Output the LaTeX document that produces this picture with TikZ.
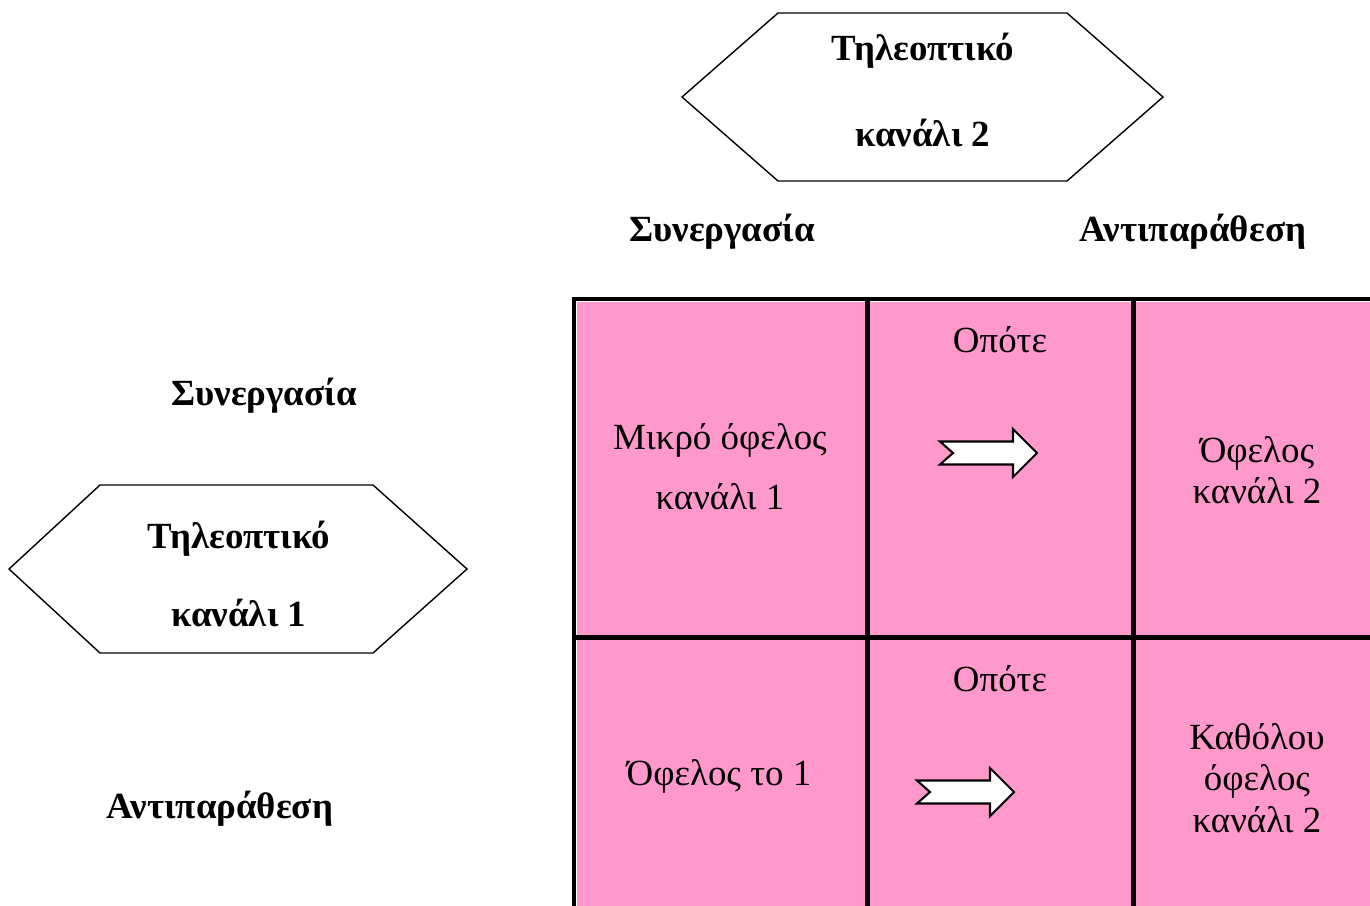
\documentclass[tikz,border=0pt]{standalone}
\usepackage{fontspec}
\setmainfont{Liberation Serif}
\usetikzlibrary{positioning}
\definecolor{cellpink}{RGB}{255,153,204}
\tikzset{
	every node/.style={
		font=\fontsize{10.5}{11.8}\selectfont
	},
	heading/.style={
		font=\fontsize{10.5}{11.8}\selectfont\bfseries,
		inner sep=0pt
	},
	tvbox/.style={
		align=center,
		font=\fontsize{10.5}{11.8}\selectfont\bfseries,
		inner sep=0pt
	},
	celltext/.style={
		align=center,
		inner sep=0pt
	},
	hexline/.style={
		draw=black,
		line width=0.4pt
	},
	gridline/.style={
		draw=black,
		line width=1.15pt
	},
	pics/fatarrow/.style={
		code={
			\draw[fill=white, line width=0.6pt, line join=miter]
				(0,0.115) -- (0.73,0.115) -- (0.73,0.24) -- (0.97,0)
				-- (0.73,-0.24) -- (0.73,-0.115) -- (0,-0.115) -- (0.13,0) -- cycle;
		}
	}
}

\begin{document}
\begin{tikzpicture}
	\useasboundingbox (0,0) rectangle (13.70,-9.06);

	% the two channels
	\coordinate (hex2) at (9.225,-0.97);
	\coordinate (hex1) at (2.38,-5.69);
	\draw[hexline, shift={(hex2)}] (-2.405,0) -- (-1.445,0.84) -- (1.445,0.84)
		-- (2.405,0) -- (1.445,-0.84) -- (-1.445,-0.84) -- cycle;
	\draw[hexline, shift={(hex1)}] (-2.29,0) -- (-1.38,0.84) -- (1.35,0.84)
		-- (2.29,0) -- (1.35,-0.84) -- (-1.38,-0.84) -- cycle;
	\node[tvbox] (tv2) at (9.23,-0.90) {Τηλεοπτικό\\[12.7pt]κανάλι 2};
	\node[tvbox] (tv1) at (2.39,-5.74) {Τηλεοπτικό\\[10.4pt]κανάλι 1};

	% strategies
	\node[heading] (coopTop)   at (7.22,-2.32)  {Συνεργασία};
	\node[heading] (conflTop)  at (11.93,-2.32) {Αντιπαράθεση};
	\node[heading] (coopLeft)  at (2.64,-3.96)  {Συνεργασία};
	\node[heading] (conflLeft) at (2.20,-8.09)  {Αντιπαράθεση};

	% payoff table
	\fill[cellpink] (5.77,-3.02) rectangle (13.80,-9.20);
	\draw[gridline] (5.74,-9.20) -- (5.74,-2.99) -- (13.80,-2.99);
	\draw[gridline] (8.675,-2.99) -- (8.675,-9.20);
	\draw[gridline] (11.335,-2.99) -- (11.335,-9.20);
	\draw[gridline] (5.74,-6.375) -- (13.80,-6.375);

	\node[celltext] (small1)  at (7.20,-4.67)  {Μικρό όφελος\\[5.3pt]κανάλι 1};
	\node[celltext] (then1)   at (10.00,-3.40) {Οπότε};
	\pic at (9.40,-4.53) {fatarrow};
	\node[celltext] (gain2)   at (12.57,-4.70) {Όφελος\\κανάλι 2};

	\node[celltext] (gain1)   at (7.19,-7.76)  {Όφελος το 1};
	\node[celltext] (then2)   at (10.00,-6.79) {Οπότε};
	\pic at (9.17,-7.92) {fatarrow};
	\node[celltext] (nogain2) at (12.57,-7.78) {Καθόλου\\όφελος\\κανάλι 2};
\end{tikzpicture}
\end{document}
